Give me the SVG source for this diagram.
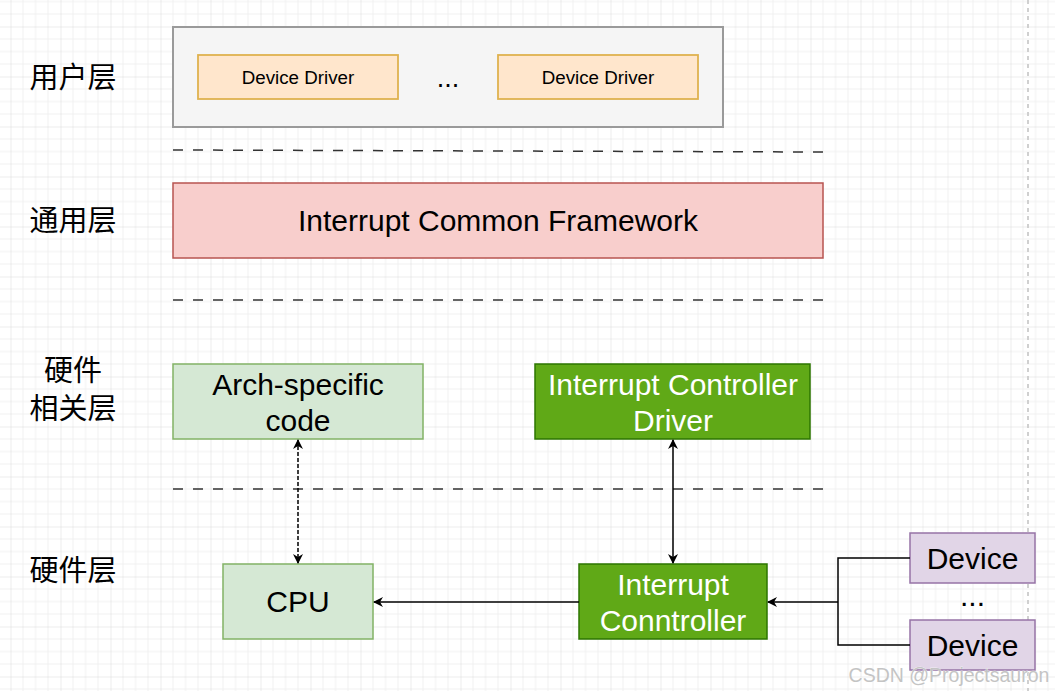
<svg xmlns="http://www.w3.org/2000/svg" width="1055" height="691" viewBox="0 0 1055 691">
<style>
text{font-family:"Liberation Sans",Arial,"Noto Sans CJK SC",sans-serif;text-anchor:middle;fill:#000}
.cjk{font-family:"Noto Sans CJK SC","Liberation Sans",sans-serif;font-size:29px}
.t30{font-size:30px}
.t19{font-size:18.75px}
.w{fill:#fff}
.sep{stroke:#333;stroke-width:1.5;stroke-dasharray:10 10;fill:none}
.ln{stroke:#000;stroke-width:1.5;fill:none}
.green{fill:#d5e8d4;stroke:#82b366;stroke-width:1.5}
.dark{fill:#60a917;stroke:#2d7600;stroke-width:1.5}
.dev{fill:#e1d5e7;stroke:#9673a6;stroke-width:1.5}
.dd{fill:#ffe6cc;stroke:#dfb24f;stroke-width:1.8}
</style>
<defs>
<pattern id="grid" patternUnits="userSpaceOnUse" x="10.5" y="26.5" width="50" height="50">
<path d="M12.5 0V50M25 0V50M37.5 0V50M0 12.5H50M0 25H50M0 37.5H50" stroke="#f0f0f0" stroke-width="1" fill="none"/>
<path d="M0 0V50M0 0H50" stroke="#dadada" stroke-width="1" fill="none"/>
</pattern>
<marker id="arr" viewBox="0 0 10 10" refX="9" refY="5" markerWidth="10" markerHeight="10" markerUnits="userSpaceOnUse" orient="auto-start-reverse">
<path d="M0 0L10 5L0 10L3 5Z" fill="#000"/>
</marker>
</defs>
<rect width="1055" height="691" fill="#fff"/>
<rect width="1055" height="691" fill="url(#grid)"/>
<line x1="1028" y1="0" x2="1028" y2="691" stroke="#d0d0d0" stroke-width="2" stroke-dasharray="4 4"/>

<g id="labels">
<text class="cjk" x="73" y="88">用户层</text>
<text class="cjk" x="73" y="231">通用层</text>
<text class="cjk" x="73" y="381">硬件</text>
<text class="cjk" x="73" y="419">相关层</text>
<text class="cjk" x="73" y="581">硬件层</text>
</g>

<g id="separators">
<line class="sep" x1="173" y1="150" x2="823" y2="152"/>
<line class="sep" x1="173" y1="300" x2="823" y2="300"/>
<line class="sep" x1="173" y1="489" x2="823" y2="489"/>
</g>

<g id="user-layer">
<rect x="173" y="27" width="550" height="100" fill="#f5f5f5" stroke="#9a9a9a" stroke-width="2"/>
</g>
<g id="device-driver-1">
<rect class="dd" x="198" y="55" width="200" height="44"/>
<text class="t19" x="298" y="83.5">Device Driver</text>
</g>
<g id="dd-dots"><text x="448" y="87" style="font-size:27px">...</text></g>
<g id="device-driver-2">
<rect class="dd" x="498" y="55" width="200" height="44"/>
<text class="t19" x="598" y="83.5">Device Driver</text>
</g>

<g id="framework">
<rect x="173" y="183" width="650" height="75" fill="#f8cecc" stroke="#b85450" stroke-width="1.5"/>
<text class="t30" x="498" y="231">Interrupt Common Framework</text>
</g>

<g id="arch-code">
<rect class="green" x="173" y="364" width="250" height="75"/>
<text class="t30" x="298" y="395">Arch-specific</text>
<text class="t30" x="298" y="431">code</text>
</g>

<g id="ic-driver">
<rect class="dark" x="535" y="364" width="275" height="75"/>
<text class="t30 w" x="673" y="395">Interrupt Controller</text>
<text class="t30 w" x="673" y="431">Driver</text>
</g>

<g id="cpu">
<rect class="green" x="223" y="564" width="150" height="75"/>
<text class="t30" x="298" y="612">CPU</text>
</g>

<g id="ic">
<rect class="dark" x="579" y="564" width="188" height="75"/>
<text class="t30 w" x="673" y="595">Interrupt</text>
<text class="t30 w" x="673" y="631">Conntroller</text>
</g>

<g id="device-1">
<rect class="dev" x="910" y="533" width="125" height="50"/>
<text class="t30" x="972.5" y="569">Device</text>
</g>
<g id="dev-dots"><text class="t30" x="972.5" y="606">...</text></g>
<g id="device-2">
<rect class="dev" x="910" y="620" width="125" height="50"/>
<text class="t30" x="972.5" y="656">Device</text>
</g>

<g id="connectors">
<line class="ln" x1="298" y1="440" x2="298" y2="563" stroke="#222" stroke-dasharray="4 2" stroke-width="2.4" marker-start="url(#arr)" marker-end="url(#arr)"/>
<line class="ln" x1="673" y1="440" x2="673" y2="563" stroke-width="2" marker-start="url(#arr)" marker-end="url(#arr)"/>
<line class="ln" x1="579" y1="602" x2="374" y2="602" stroke="#333" marker-end="url(#arr)"/>
<path class="ln" d="M910 558H838V645H910"/>
<line class="ln" x1="838" y1="602" x2="768" y2="602" marker-end="url(#arr)"/>
</g>

<g id="watermark">
<text x="949" y="682" style="font-size:19.5px;fill:#c4c4c4;stroke:#fff;stroke-width:0.5;paint-order:stroke">CSDN @Projectsauron</text>
</g>
</svg>
